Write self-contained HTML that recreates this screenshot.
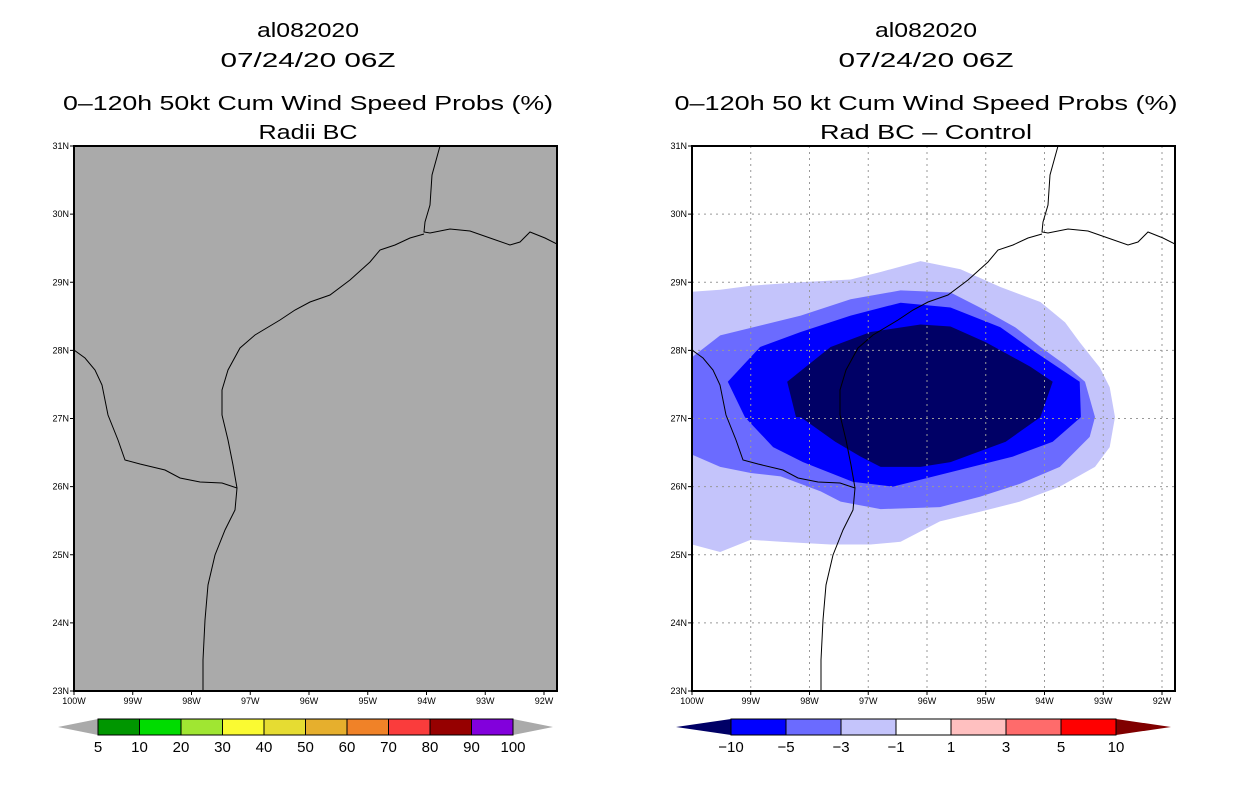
<!DOCTYPE html>
<html><head><meta charset="utf-8"><style>
body{margin:0;background:#fff;width:1236px;height:800px;overflow:hidden}
svg text{font-family:"Liberation Sans",sans-serif}
</style></head><body>
<svg id="s" width="1236" height="800" xmlns="http://www.w3.org/2000/svg">
<g font-size="20" text-anchor="middle" fill="#000" lengthAdjust="spacingAndGlyphs">
<text x="308" y="37" textLength="102" lengthAdjust="spacingAndGlyphs">al082020</text>
<text x="308" y="67" textLength="175" lengthAdjust="spacingAndGlyphs">07/24/20 06Z</text>
<text x="308" y="110" textLength="490" lengthAdjust="spacingAndGlyphs">0–120h 50kt Cum Wind Speed Probs (%)</text>
<text x="308" y="139" textLength="99" lengthAdjust="spacingAndGlyphs">Radii BC</text>
<text x="926" y="37" textLength="102" lengthAdjust="spacingAndGlyphs">al082020</text>
<text x="926" y="67" textLength="175" lengthAdjust="spacingAndGlyphs">07/24/20 06Z</text>
<text x="926" y="110" textLength="503" lengthAdjust="spacingAndGlyphs">0–120h 50 kt Cum Wind Speed Probs (%)</text>
<text x="926" y="139" textLength="212" lengthAdjust="spacingAndGlyphs">Rad BC – Control</text>
</g>
<g id="L"></g><g id="R"></g><g id="CB"></g>
</svg>
<script>
const lonTicks=[100,99,98,97,96,95,94,93,92];
const latTicks=[31,30,29,28,27,26,25,24,23];
const levelsR=['−10','−5','−3','−1','1','3','5','10'];
const colorsR=['#000066','#0000ff','#6b6bff','#c4c4fb','#ffffff','#ffc0c0','#ff6b6b','#ff0000','#800000'];
const levelsL=['5','10','20','30','40','50','60','70','80','90','100'];
const colorsL=['#aaaaaa','#009600','#00dc00','#a0e632','#fafa32','#e6dc32','#e6af2d','#f08228','#fa3c3c','#960000','#8200dc','#aaaaaa'];
// contour polygons (lon W, lat N)
const cLight=[[100,28.86],[99.52,28.89],[99.0,28.95],[98.15,29.0],[97.3,29.04],[96.79,29.15],[96.11,29.31],[95.43,29.19],[94.75,28.93],[94.07,28.71],[93.65,28.41],[93.4,28.12],[93.06,27.75],[92.89,27.46],[92.8,27.02],[92.89,26.58],[93.14,26.29],[93.74,26.0],[94.42,25.78],[95.1,25.63],[95.78,25.49],[96.45,25.19],[96.96,25.15],[97.64,25.15],[98.49,25.19],[99.0,25.22],[99.52,25.04],[100,25.15]];
const cMed=[[100,27.9],[99.52,28.22],[99.0,28.33],[98.15,28.51],[97.3,28.75],[96.45,28.88],[95.6,28.85],[95.1,28.63],[94.5,28.34],[94.07,28.05],[93.65,27.79],[93.31,27.54],[93.14,27.02],[93.23,26.73],[93.74,26.29],[94.42,26.04],[95.1,25.85],[95.78,25.7],[96.79,25.67],[97.47,25.78],[97.81,25.93],[98.49,26.15],[99.0,26.2],[99.52,26.29],[100,26.47]];
const cBlue=[[99.39,27.54],[98.84,28.05],[98.15,28.27],[97.3,28.51],[96.45,28.7],[95.6,28.63],[94.75,28.34],[94.15,27.97],[93.4,27.54],[93.38,27.02],[93.86,26.66],[94.54,26.44],[95.56,26.22],[96.58,26.0],[97.26,26.07],[98.11,26.36],[98.62,26.58],[99.1,27.02]];
const cNavy=[[98.38,27.54],[97.64,28.05],[96.96,28.27],[96.11,28.38],[95.6,28.35],[95.0,28.12],[94.24,27.76],[93.86,27.54],[94.07,27.02],[94.66,26.66],[95.6,26.36],[96.11,26.29],[96.79,26.29],[97.13,26.44],[97.56,26.66],[98.15,27.02],[98.23,27.02]];
// coastline (basemap) via left-panel pixel trace
const coastPx=[[440,146],[432,175],[430,205],[425,222],[424,232],[430,233],[450,229],[470,231],[490,238],[510,245],[520,242],[530,232],[545,238],[557,244]];
const coast2Px=[[424,234],[410,238],[395,245],[380,250],[370,262],[350,280],[330,295],[310,302],[295,310],[280,320],[255,335],[240,348],[228,370],[222,390],[222,415],[228,440],[233,465],[237,488],[235,510],[225,530],[215,555],[208,585],[205,620],[203,660],[203,691]];
const borderPx=[[237,488],[222,483],[200,482],[180,478],[165,470],[140,464],[125,460],[118,440],[108,415],[102,385],[95,370],[85,358],[74,350]];
const NS='http://www.w3.org/2000/svg';
function mk(tag,at,p){const e=document.createElementNS(NS,tag);for(const k in at)e.setAttribute(k,at[k]);p.appendChild(e);return e;}
const W=483,H=545;
function xs(x0){return lon=>x0+(100-lon)*58.75;}
function ys(lat){return 146+(31-lat)*68.125;}
function toLL(p){return [100-(p[0]-74)/58.75,31-(p[1]-146)/68.125];}
function pts(arr,X){return arr.map(d=>X(d[0]).toFixed(1)+','+ys(d[1]).toFixed(1)).join(' ');}
function panel(g,x0,bg,grid){
  const X=xs(x0);
  const cp=mk('clipPath',{id:'cp'+x0},g);mk('rect',{x:x0,y:146,width:W,height:H},cp);
  let r=mk('rect',{x:x0,y:146,width:W,height:H,fill:bg},g);
  
  const inner=mk('g',{'clip-path':'url(#cp'+x0+')'},g);
  if(grid){
    [[cLight,colorsR[3],'contour-minus1'],[cMed,colorsR[2],'contour-minus3'],[cBlue,colorsR[1],'contour-minus5'],[cNavy,colorsR[0],'contour-minus10']].forEach(c=>{
      const p=mk('polygon',{points:pts(c[0],X),fill:c[1]},inner);
      
    });
    lonTicks.forEach(l=>mk('line',{x1:X(l),x2:X(l),y1:146,y2:691,stroke:'#999','stroke-dasharray':'2,4'},inner));
    latTicks.forEach(l=>mk('line',{x1:x0,x2:x0+W,y1:ys(l),y2:ys(l),stroke:'#999','stroke-dasharray':'2,4'},inner));
  }
  [coastPx,coast2Px,borderPx].forEach((c,i)=>{
    const p=mk('polyline',{points:pts(c.map(toLL),X),fill:'none',stroke:'#000','stroke-width':1},inner);
    
  });
  const f=mk('rect',{x:x0,y:146,width:W,height:H,fill:'none',stroke:'#000','stroke-width':2},g);
  
  lonTicks.forEach(l=>{mk('line',{x1:X(l),x2:X(l),y1:691,y2:695,stroke:'#000'},g);
    const t=mk('text',{x:X(l),y:704,'font-size':9,'text-anchor':'middle'},g);t.textContent=l+'W';
    });
  latTicks.forEach(l=>{mk('line',{x1:x0-4,x2:x0,y1:ys(l),y2:ys(l),stroke:'#000'},g);
    const t=mk('text',{x:x0-5,y:ys(l)+3,'font-size':9,'text-anchor':'end'},g);t.textContent=l+'N';
    });
}
panel(document.getElementById('L'),74,'#aaaaaa',false);
panel(document.getElementById('R'),692,'#ffffff',true);
function cbar(g,x0,x1,tw,colors,labels,name){
  const n=colors.length-2,bw=(x1-x0-2*tw)/n,y=719,h=16;
  let t=mk('polygon',{points:`${x0},${y+h/2} ${x0+tw},${y} ${x0+tw},${y+h}`,fill:colors[0]},g);
  
  t=mk('polygon',{points:`${x1},${y+h/2} ${x1-tw},${y} ${x1-tw},${y+h}`,fill:colors[n+1]},g);
  
  for(let i=0;i<n;i++){const r=mk('rect',{x:x0+tw+i*bw,y:y,width:bw,height:h,fill:colors[i+1],stroke:'#000'},g);
    }
  labels.forEach((l,i)=>{const tx=mk('text',{x:x0+tw+i*bw,y:752,'font-size':15,'text-anchor':'middle'},g);tx.textContent=l;
    });
}
const cb=document.getElementById('CB');
cbar(cb,58,553,40,colorsL,levelsL,'left-colorbar');
cbar(cb,676,1171,55,colorsR,levelsR,'right-colorbar');
</script>
</body></html>
